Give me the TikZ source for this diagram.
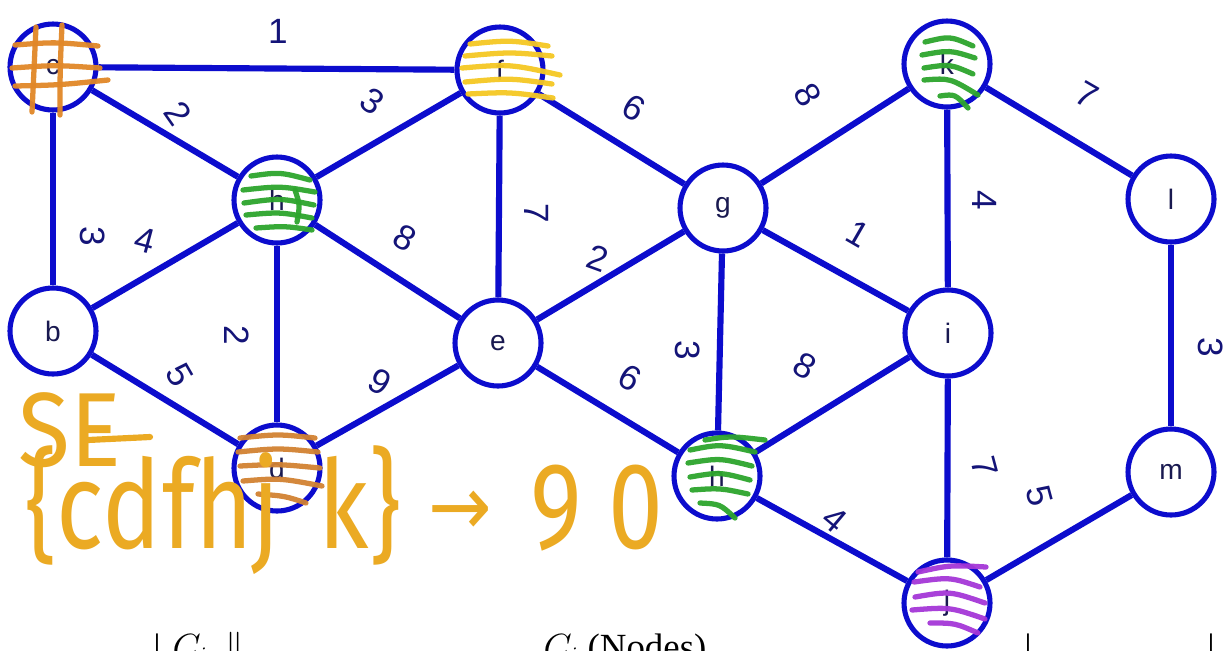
\documentclass[tikz,border=0pt]{standalone}
\usepackage{fontspec}
\setmainfont{Liberation Sans}
\newfontfamily\serifx{Liberation Serif}
\newfontfamily\hand{Fira Sans}
\newfontfamily\dejav{DejaVu Sans}
\definecolor{gb}{RGB}{12,12,205}
\definecolor{ntext}{RGB}{25,25,80}
\definecolor{ltext}{RGB}{20,20,120}
\definecolor{hashor}{RGB}{225,135,40}
\definecolor{dor}{RGB}{210,130,50}
\definecolor{yel}{RGB}{245,200,35}
\definecolor{grn}{RGB}{45,165,45}
\definecolor{pur}{RGB}{165,55,215}
\definecolor{handc}{RGB}{235,170,35}
\tikzset{
  vtx/.style={circle,draw=gb,line width=2.9pt,fill=white,minimum size=1.72cm,inner sep=0pt,
    font=\fontsize{16}{16}\selectfont,text=ntext},
  edge/.style={draw=gb,line width=3.5pt},
  lbl/.style={font=\fontsize{20}{20}\selectfont,text=ltext,inner sep=0pt},
  scrib/.style={line width=3pt,line cap=round,opacity=0.95},
  handw/.style={font=\hand\fontsize{70}{70}\selectfont,text=handc,anchor=base west,inner sep=0pt,xscale=0.8},
  tbl/.style={font=\serifx\fontsize{21}{21}\selectfont,text=black,anchor=base,inner sep=0pt}
}
\begin{document}
\begin{tikzpicture}[x=0.02cm,y=-0.02cm]
\useasboundingbox (0,0) rectangle (1226,650);
\clip (0,0) rectangle (1226,650);
\fill[white] (0,0) rectangle (1226,650);
% nodes
\node[vtx] (c) at (53,67) {c};
\node[vtx] (f) at (500,70) {f};
\node[vtx] (h) at (277,200) {h};
\node[vtx] (g) at (723,208) {g};
\node[vtx] (k) at (947,64) {k};
\node[vtx] (l) at (1171,199) {l};
\node[vtx] (b) at (53,331) {b};
\node[vtx] (e) at (498,343) {e};
\node[vtx] (i) at (948,333) {i};
\node[vtx] (d) at (277,468) {d};
\node[vtx] (H) at (717,476) {h};
\node[vtx] (m) at (1171,472) {m};
\node[vtx] (j) at (947,603) {j};
% edges
\draw[edge] (c) -- (f);
\draw[edge] (c) -- (h);
\draw[edge] (c) -- (b);
\draw[edge] (f) -- (h);
\draw[edge] (f) -- (e);
\draw[edge] (f) -- (g);
\draw[edge] (b) -- (h);
\draw[edge] (h) -- (e);
\draw[edge] (h) -- (d);
\draw[edge] (b) -- (d);
\draw[edge] (d) -- (e);
\draw[edge] (e) -- (g);
\draw[edge] (e) -- (H);
\draw[edge] (g) -- (H);
\draw[edge] (g) -- (k);
\draw[edge] (g) -- (i);
\draw[edge] (H) -- (i);
\draw[edge] (H) -- (j);
\draw[edge] (k) -- (i);
\draw[edge] (k) -- (l);
\draw[edge] (i) -- (j);
\draw[edge] (l) -- (m);
\draw[edge] (m) -- (j);
% edge labels
\node[lbl] (w1) at (278,31) {1};
\node[lbl,rotate=-55] (w2) at (178,113) {2};
\node[lbl,rotate=-90] (w3) at (93,236) {3};
\node[lbl,rotate=-35] (w4) at (372,101) {3};
\node[lbl,rotate=-15] (w5) at (145,240) {4};
\node[lbl,rotate=-90] (w6) at (537,213) {7};
\node[lbl,rotate=-30] (w7) at (634,108) {6};
\node[lbl,rotate=-30] (w8) at (405,238) {8};
\node[lbl,rotate=-90] (w9) at (237,335) {2};
\node[lbl,rotate=-60] (w10) at (180,375) {5};
\node[lbl,rotate=-30] (w11) at (380,382) {9};
\node[lbl,rotate=-20] (w12) at (598,258) {2};
\node[lbl,rotate=-30] (w13) at (630,378) {6};
\node[lbl,rotate=-90] (w14) at (688,350) {3};
\node[lbl,rotate=-30] (w15) at (805,366) {8};
\node[lbl,rotate=-60] (w16) at (808,95) {8};
\node[lbl,rotate=-30] (w17) at (858,234) {1};
\node[lbl,rotate=-90] (w18) at (985,200) {4};
\node[lbl,rotate=-30] (w19) at (1087,95) {7};
\node[lbl,rotate=-75] (w20) at (985,467) {7};
\node[lbl,rotate=-40] (w21) at (835,520) {4};
\node[lbl,rotate=-90] (w22) at (1211,347) {3};
\node[lbl,rotate=-75] (w23) at (1040,496) {5};
% scribbles: c (hash)
\begin{scope}[scrib,draw=hashor]
\draw (36,27) .. controls (34,70) .. (32,112);
\draw (62,25) .. controls (60,70) .. (60,115);
\draw (15,45) .. controls (55,42) .. (98,46);
\draw (12,68) .. controls (55,65) .. (100,68);
\draw (15,86) .. controls (60,85) .. (108,80);
\end{scope}
% f (yellow)
\begin{scope}[scrib,draw=yel]
\draw (470,44) .. controls (510,40) .. (548,46);
\draw (465,56) .. controls (510,52) .. (552,56);
\draw (462,68) .. controls (510,64) .. (560,75);
\draw (465,82) .. controls (510,78) .. (552,84);
\draw (468,94) .. controls (510,92) .. (553,98);
\end{scope}
% h (green)
\begin{scope}[scrib,draw=grn]
\draw (251,176) .. controls (280,172) .. (310,180);
\draw (243,190) .. controls (280,186) .. (315,192);
\draw (244,203) .. controls (280,198) .. (314,205);
\draw (246,215) .. controls (280,212) .. (312,218);
\draw (256,228) .. controls (285,226) .. (312,230);
\draw (295,190) .. controls (300,205) .. (297,222);
\end{scope}
% k (green)
\begin{scope}[scrib,draw=grn]
\draw (925,42) .. controls (950,36) .. (973,46);
\draw (922,55) .. controls (950,50) .. (975,58);
\draw (924,68) .. controls (950,64) .. (973,74);
\draw (924,80) .. controls (950,78) .. (978,95);
\draw (940,96) .. controls (955,94) .. (968,108);
\end{scope}
% H (green)
\begin{scope}[scrib,draw=grn]
\draw (690,450) .. controls (720,444) .. (755,452);
\draw (688,463) .. controls (720,458) .. (752,466);
\draw (690,477) .. controls (720,472) .. (750,480);
\draw (692,490) .. controls (720,488) .. (748,494);
\draw (700,503) .. controls (720,504) .. (735,518);
\draw (705,440) .. controls (730,436) .. (765,440);
\end{scope}
% d (orange)
\begin{scope}[scrib,draw=dor]
\draw (240,438) .. controls (278,434) .. (315,438);
\draw (238,452) .. controls (278,448) .. (318,452);
\draw (240,466) .. controls (278,464) .. (320,468);
\draw (243,481) .. controls (280,478) .. (322,486);
\draw (258,494) .. controls (285,496) .. (306,503);
\end{scope}
% j (purple)
\begin{scope}[scrib,draw=pur]
\draw (918,572) .. controls (950,565) .. (986,567);
\draw (914,582) .. controls (950,577) .. (980,587);
\draw (915,597) .. controls (950,591) .. (985,603);
\draw (912,610) .. controls (950,607) .. (985,619);
\draw (930,623) .. controls (955,623) .. (978,633);
\end{scope}
% handwriting
\node[font=\hand\fontsize{60}{60}\selectfont,text=handc,anchor=base west,inner sep=0pt,xscale=0.9] (hw1) at (18,466) {SE};
\draw[handc,line width=3.5pt,line cap=round] (88,440) -- (150,437);
\node[handw] (hw2) at (25,548) {\{cd};
\node[handw] (hw3) at (162,548) {fhj};
\node[handw] (hw4) at (318,548) {k\}};
\node[font=\dejav\fontsize{48}{48}\selectfont,text=handc,anchor=base west,inner sep=0pt,xscale=0.9] (hw5) at (428,535) {→};
\node[handw] (hw6) at (530,548) {9};
\node[handw] (hw7) at (608,548) {0};
% bottom table header fragments
\node[tbl] (t1) at (157,659) {|};
\node[tbl] (t2) at (190,659) {$C_i$};
\node[tbl] (t3) at (235,659) {$\|$};
\node[tbl] (t4) at (625,659) {$C_i$ (Nodes)};
\node[tbl] (t5) at (1028,659) {|};
\node[tbl] (t6) at (1211,659) {|};
\end{tikzpicture}
\end{document}
